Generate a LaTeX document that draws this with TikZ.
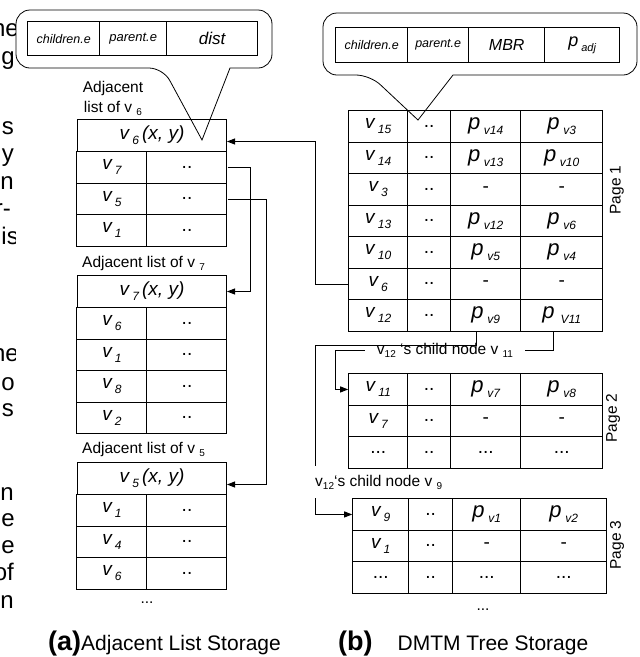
\documentclass[tikz,border=0pt]{standalone}
\usepackage{fontspec}
\setmainfont{Liberation Sans}
\usetikzlibrary{arrows.meta,positioning,matrix}

\newcommand\fsz[1]{\fontsize{#1}{#1}\selectfont}
\newcommand\sbs[1]{\raisebox{-5pt}{\fsz{12}#1}}
\newcommand\vv[1]{{\itshape v\,\sbs{#1}}}
\newcommand\pp[1]{{\fsz{22}\itshape p\,\sbs{#1}}}
\newcommand\lsub[1]{\raisebox{-3pt}{\fsz{10}#1}}

\begin{document}
\begin{tikzpicture}[x=1pt,y=-1pt,>={Triangle[length=8pt,width=6pt]},
  cell/.style={draw,line width=1pt,inner sep=0pt,minimum height=31.5pt,anchor=center,font=\fsz{19}},
  tab/.style={matrix of nodes,nodes={cell},column sep=-1pt,row sep=-1pt,inner sep=0pt},
  head/.style={cell,minimum width=149pt,minimum height=32pt,anchor=north west},
  bubble/.style={draw,line width=0.8pt},
  lbl/.style={font=\fontsize{15.5}{20}\selectfont,inner sep=0pt},
  side/.style={font=\fsz{24},inner sep=0pt,anchor=base east},
  link/.style={line width=0.9pt}]
\useasboundingbox (0,0) rectangle (640,657);

% cut-off words of the page text on the left
\begin{scope}
\clip (0,0) rectangle (15,657);
\foreach \t/\x/\y [count=\i] in {ne/19/36, g/15/64, s/14/134, y/14/161, n/14/189, r-/11/216, is/19/244, ne/19/361, go/15/390, s/14/416, n/14/500, e/15/526, e/15/553, of/14/580, n/14/608}
  \node[side] (m\i) at (\x,\y) {\t};
\end{scope}

% (a) adjacent lists
\draw[bubble] (202,140) -- (230,68) [rounded corners=14pt] -- (272,68) -- (272,10) -- (16,10) -- (16,68) -- (163,68) [sharp corners] -- cycle;
\matrix[tab,anchor=north west,nodes={minimum height=34pt},column 1/.style={nodes={minimum width=72pt}},column 2/.style={nodes={minimum width=67pt}},column 3/.style={nodes={minimum width=91pt}}] (b1) at (27,21) {
|[font=\fsz{12.5}\itshape]| children.e & |[font=\fsz{13}\itshape]| parent.e & |[font=\fsz{17}\itshape]| dist \\};

\node[lbl,align=center] (t6) at (113,98) {Adjacent\\list of v \lsub{6}};
\node[head] (h6) at (77,119) {\itshape v\,\sbs{6}\,(x, y)};
\matrix[tab,below=-1pt of h6,column 1/.style={nodes={minimum width=70pt}},column 2/.style={nodes={minimum width=80pt}}] (a6) {
\vv{7} & .. \\ \vv{5} & .. \\ \vv{1} & .. \\};

\node[lbl,anchor=base west] (t7) at (82,267) {Adjacent list of v \lsub{7}};
\node[head] (h7) at (77,275) {\itshape v\,\sbs{7}\,(x, y)};
\matrix[tab,below=-1pt of h7,column 1/.style={nodes={minimum width=70pt}},column 2/.style={nodes={minimum width=80pt}}] (a7) {
\vv{6} & .. \\ \vv{1} & .. \\ \vv{8} & .. \\ \vv{2} & .. \\};

\node[lbl,anchor=base west] (t5) at (82,453) {Adjacent list of v \lsub{5}};
\node[head] (h5) at (77,462) {\itshape v\,\sbs{5}\,(x, y)};
\matrix[tab,below=-1pt of h5,column 1/.style={nodes={minimum width=70pt}},column 2/.style={nodes={minimum width=80pt}}] (a5) {
\vv{1} & .. \\ \vv{4} & .. \\ \vv{6} & .. \\};
\node[lbl] (d5) at (147,603) {...};

\draw[link,->] (a6-1-2.east) -- ++(23,0) |- (h7.east);
\draw[link,->] (a6-2-2.east) -- ++(39,0) |- ([yshift=-6pt]h5.east);

% (b) DMTM tree pages
\draw[bubble] (418,120) -- (453,75) [rounded corners=14pt] -- (637,75) -- (637,13) -- (323,13) -- (323,75) -- (370,75) [sharp corners] -- cycle;
\matrix[tab,anchor=north west,nodes={minimum height=35pt},column 1/.style={nodes={minimum width=72pt}},column 2/.style={nodes={minimum width=61pt}},column 3/.style={nodes={minimum width=76pt}},column 4/.style={nodes={minimum width=75pt}}] (b2) at (335,27) {
|[font=\fsz{12.5}\itshape]| children.e & |[font=\fsz{12.5}\itshape]| parent.e & |[font=\fsz{16}\itshape]| MBR & |[font=\fsz{18}\itshape]| p\,\raisebox{-5pt}{\fsz{11}adj} \\};

\matrix[tab,anchor=north west,column 1/.style={nodes={minimum width=59pt}},column 2/.style={nodes={minimum width=43pt}},column 3/.style={nodes={minimum width=70pt}},column 4/.style={nodes={minimum width=82pt}}] (p1) at (348,110) {
\vv{15} & .. & \pp{v14} & \pp{v3} \\
\vv{14} & .. & \pp{v13} & \pp{v10} \\
\vv{3} & .. & - & - \\
\vv{13} & .. & \pp{v12} & \pp{v6} \\
\vv{10} & .. & \pp{v5} & \pp{v4} \\
\vv{6} & .. & - & - \\
\vv{12} & .. & \pp{v9} & {\fsz{22}\itshape p\ \sbs{V11}} \\};
\node[lbl,rotate=90] (pg1) at (617,190) {Page 1};

\matrix[tab,anchor=north west,column 1/.style={nodes={minimum width=59pt}},column 2/.style={nodes={minimum width=43pt}},column 3/.style={nodes={minimum width=70pt}},column 4/.style={nodes={minimum width=82pt}}] (p2) at (348,373) {
\vv{11} & .. & \pp{v7} & \pp{v8} \\
\vv{7} & .. & - & - \\
... & .. & ... & ... \\};
\node[lbl,rotate=90] (pg2) at (613,418) {Page 2};

\matrix[tab,anchor=north west,column 1/.style={nodes={minimum width=56pt}},column 2/.style={nodes={minimum width=44pt}},column 3/.style={nodes={minimum width=68pt}},column 4/.style={nodes={minimum width=86pt}}] (p3) at (352,498) {
\vv{9} & .. & \pp{v1} & \pp{v2} \\
\vv{1} & .. & - & - \\
... & .. & ... & ... \\};
\node[lbl,rotate=90] (pg3) at (617,545) {Page 3};
\node[lbl] (d3) at (483,610) {...};

\node[lbl,inner xsep=12pt] (c11) at (445,350) {v\lsub{12} \textquoteleft s child node v \lsub{11}};
\node[lbl,anchor=west,inner ysep=9pt] (c9) at (315,482) {v\lsub{12}\textquoteleft s child node v \lsub{9}};

\draw[link,->] (p1-6-1.west) -- ++(-33,0) |- ([yshift=-6pt]h6.east);
\draw[link] ([xshift=-9pt]p1-7-3.south) -- ++(0,14) -| (c9.north west);
\draw[link,->] (c9.south west) |- (p3-1-1.west);
\draw[link] ([xshift=-8pt]p1-7-4.south) |- (c11.east);
\draw[link,->] (c11.west) -- ++(-29,0) |- (p2-1-1.west);

% captions
\node[anchor=base west,inner sep=0pt] (capa) at (48,650) {{\bfseries\fsz{27}(a)}{\fsz{21}Adjacent List Storage}};
\node[anchor=base west,inner sep=0pt] (capb) at (338,650) {{\bfseries\fsz{27}(b)}\hspace{25pt}{\fsz{21}DMTM Tree Storage}};
\end{tikzpicture}
\end{document}
